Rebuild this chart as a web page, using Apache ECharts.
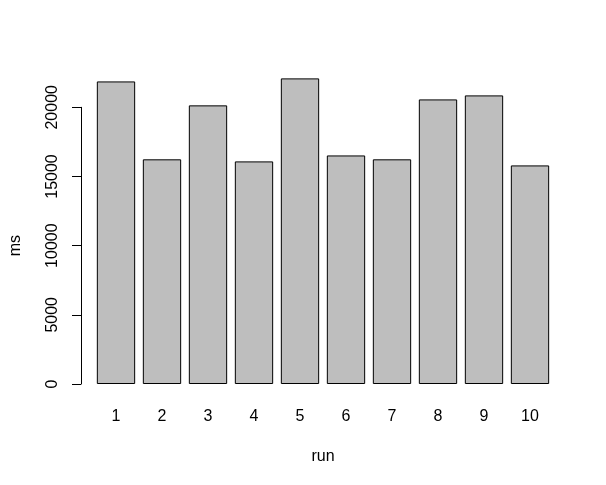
<!DOCTYPE html>
<html>
<head>
<meta charset="utf-8">
<script src="https://cdn.jsdelivr.net/npm/echarts@6/dist/echarts.min.js"></script>
<style>html,body{margin:0;padding:0;background:#fff}#c{width:606px;height:485px}</style>
</head>
<body>
<div id="c"></div>
<script>
const categories = ['1','2','3','4','5','6','7','8','9','10'];
const msValues = [21870, 16240, 20140, 16090, 22090, 16520, 16240, 20570, 20860, 15800];
const yTicks = { min: 0, max: 20000, interval: 5000 };

const chart = echarts.init(document.getElementById('c'), null, { renderer: 'canvas' });
const font = 'Liberation Sans, Arial, sans-serif';
chart.setOption({
  animation: false,
  backgroundColor: '#ffffff',
  grid: { left: 90, right: 53, top: 107.3, bottom: 101 },
  xAxis: {
    type: 'category',
    data: categories,
    name: 'run',
    nameLocation: 'middle',
    nameGap: 65,
    nameTextStyle: { color: '#000', fontSize: 16, fontFamily: font },
    axisLine: { show: false },
    axisTick: { show: false },
    axisLabel: { color: '#000', fontSize: 16, fontFamily: font, margin: 25 },
    splitLine: { show: false }
  },
  yAxis: {
    type: 'value',
    min: yTicks.min, max: yTicks.max, interval: yTicks.interval,
    offset: 12,
    name: 'ms',
    nameLocation: 'middle',
    nameGap: 57,
    nameRotate: 90,
    nameTextStyle: { color: '#000', fontSize: 16, fontFamily: font },
    axisLine: { show: true, lineStyle: { color: '#000', width: 1 } },
    axisTick: { show: true, length: 9, lineStyle: { color: '#000', width: 1 } },
    axisLabel: { color: '#000', fontSize: 16, fontFamily: font, rotate: 90, margin: 20,
                 formatter: function (v) { return String(v); } },
    splitLine: { show: false }
  },
  series: [{
    type: 'bar',
    data: msValues,
    clip: false,
    barCategoryGap: '16.7%',
    itemStyle: { color: '#bebebe', borderColor: '#000', borderWidth: 1 }
  }]
});
</script>
</body>
</html>
